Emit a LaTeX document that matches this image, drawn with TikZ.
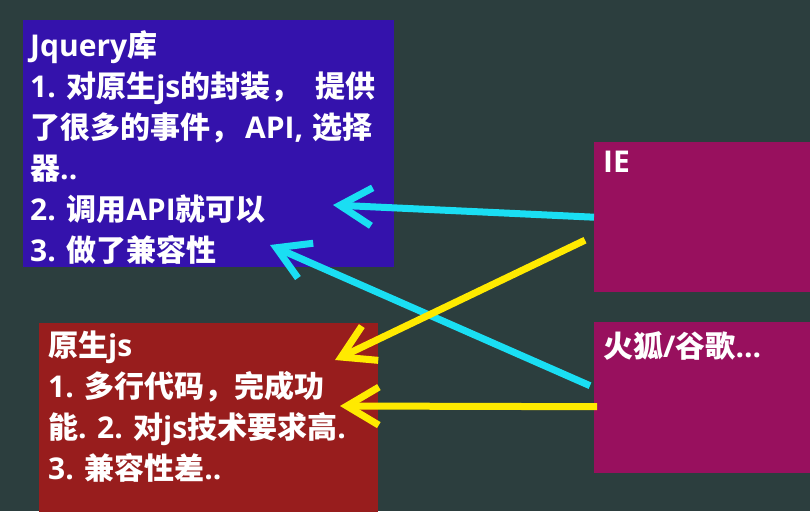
\documentclass[tikz,border=0pt]{standalone}
\usepackage{fontspec}
\setmainfont{Noto Sans CJK SC}
\newfontfamily\lat{Open Sans}[BoldFont={Open Sans Bold}]
\usetikzlibrary{arrows.meta,calc}
\definecolor{bgc}{RGB}{44,62,62}
\definecolor{jqc}{RGB}{52,18,172}
\definecolor{nativec}{RGB}{152,29,29}
\definecolor{brc}{RGB}{152,16,94}
\definecolor{cyanc}{RGB}{26,222,243}
\definecolor{yelc}{RGB}{255,234,0}
\begin{document}
\begin{tikzpicture}[x=1pt,y=-1pt,
  panel/.style={draw=none, inner sep=0pt, anchor=north west},
  label/.style={inner sep=0pt, anchor=north west, align=left, text=white,
    font=\fontsize{30}{41}\selectfont\bfseries},
  conn/.style={line width=7pt, -{Straight Barb[length=32pt,width=38pt]}}]
\useasboundingbox (0,0) rectangle (810,511);
\fill[bgc] (0,0) rectangle (810,511);
\clip (0,0) rectangle (810,511);
\node[panel, fill=jqc, minimum width=371pt, minimum height=247pt] (jq) at (23,20) {};
\node[panel, fill=nativec, minimum width=339pt, minimum height=200pt] (nat) at (39,323) {};
\node[panel, fill=brc, minimum width=230pt, minimum height=150pt] (ie) at (594,142) {};
\node[panel, fill=brc, minimum width=230pt, minimum height=151pt] (ff) at (594,322) {};
\node[label] (jqt) at (30,30) {{\lat Jquery}库\\{\lat 1. }对原生{\lat js}的封装，\hspace{15pt}提供\\了很多的事件，\hspace{5pt}{\lat API,\hspace{9pt}}选择\\器{\lat ..}\\{\lat 2. }调用{\lat API}就可以\\{\lat 3. }做了兼容性};
\node[label] (natt) at (48,331) {原生{\lat js}\\{\lat 1. }多行代码，完成功\\能{\lat . 2. }对{\lat js}技术要求高{\lat .}\\{\lat 3. }兼容性差{\lat ..}};
\node[label] (iet) at (603,151) {{\lat IE}};
\node[label] (fft) at (603,331) {火狐{\lat /}谷歌{\lat ...}};
\coordinate (a1e) at (333,205);
\coordinate (a2s) at ($(ie.west)+(-9,23)$);
\coordinate (a2e) at (335,360);
\coordinate (a3s) at ($(ff.west)+(-4,-12)$);
\coordinate (a3e) at (270,245);
\coordinate (a4s) at ($(ff.west)+(3,9)$);
\coordinate (a4e) at (340,406);
\draw[conn, cyanc] (ie.west) -- (a1e);
\draw[conn, cyanc] (a3s) -- (a3e);
\draw[conn, yelc] (a2s) -- (a2e);
\draw[conn, yelc] (a4s) -- (a4e);
\end{tikzpicture}
\end{document}
